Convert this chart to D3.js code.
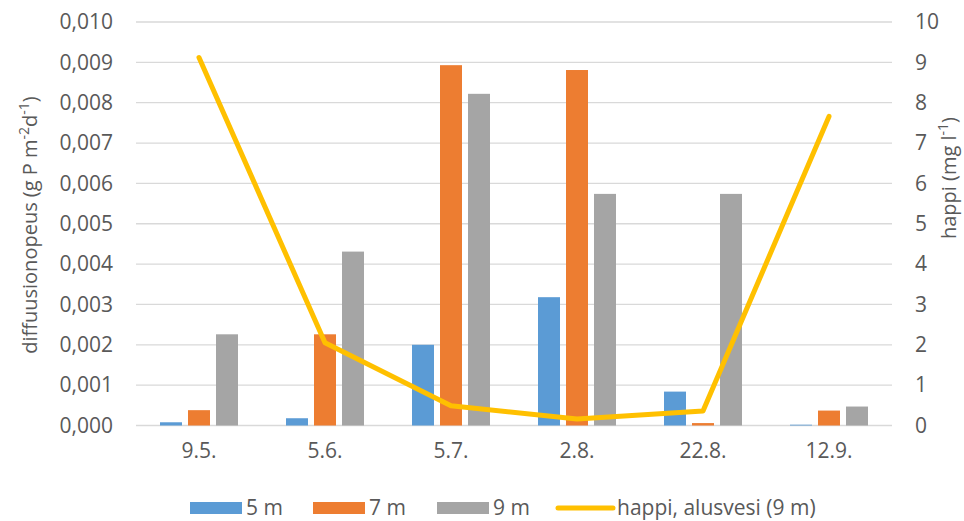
<!DOCTYPE html>
<html><head><meta charset="utf-8">
<script src="https://cdn.jsdelivr.net/npm/d3@7"></script>
<style>
html,body{margin:0;padding:0;background:#fff;}
text{font-family:"Open Sans",sans-serif;fill:#595959;}
</style></head>
<body><svg id="c" width="964" height="521"></svg>
<script>
const categories = ["9.5.", "5.6.", "5.7.", "2.8.", "22.8.", "12.9."];
const series = ["5 m", "7 m", "9 m"];
const values5m = [0.00008, 0.00018, 0.0020, 0.00318, 0.00084, 0.00002];
const values7m = [0.00038, 0.00226, 0.00893, 0.00881, 0.00006, 0.00037];
const values9m = [0.00226, 0.00431, 0.00822, 0.00574, 0.00574, 0.00047];
const oxygen = [9.12, 2.05, 0.49, 0.16, 0.36, 7.66];
const lineName = "happi, alusvesi (9 m)";
const leftTicks = [0,0.001,0.002,0.003,0.004,0.005,0.006,0.007,0.008,0.009,0.010];
const rightTicks = [0,1,2,3,4,5,6,7,8,9,10];
const colors = ["#5B9BD5", "#ED7D31", "#A5A5A5"];
const lineColor = "#FFC000";

const svg = d3.select("#c");
const L = 136, R = 892, T = 22, B = 425.5;
const FS = "21px";
const x = d3.scaleBand().domain(categories).range([L, R]).padding(0);
const yL = d3.scaleLinear().domain([0, 0.010]).range([B, T]);
const yR = d3.scaleLinear().domain([0, 10]).range([B, T]);
const groupW = 78;
const x1 = d3.scaleBand().domain(series).range([0, groupW]).paddingInner(6/28).paddingOuter(0);
const fmt = d3.formatLocale({decimal: ",", thousands: " ", grouping: [3], currency: ["", "€"]}).format(".3f");

// gridlines
svg.append("g").selectAll("line").data(leftTicks).join("line")
  .attr("x1", L).attr("x2", R)
  .attr("y1", d => yL(d)).attr("y2", d => yL(d))
  .attr("stroke", "#D9D9D9").attr("stroke-width", 1.3);

// left axis labels
const gl = svg.append("g").attr("transform", `translate(${L},0)`)
  .call(d3.axisLeft(yL).tickValues(leftTicks).tickFormat(fmt).tickSize(0).tickPadding(23));
gl.select(".domain").remove();
gl.selectAll("text").style("font-size", FS).attr("fill", "#595959").style("font-family", '"Open Sans",sans-serif');

// right axis labels
const gr = svg.append("g").attr("transform", `translate(${R},0)`)
  .call(d3.axisRight(yR).tickValues(rightTicks).tickFormat(d3.format("d")).tickSize(0).tickPadding(23));
gr.select(".domain").remove();
gr.selectAll("text").style("font-size", FS).attr("fill", "#595959").style("font-family", '"Open Sans",sans-serif');

// x axis labels
const gx = svg.append("g").attr("transform", `translate(0,${B})`)
  .call(d3.axisBottom(x).tickSize(0).tickPadding(18));
gx.select(".domain").remove();
gx.selectAll("text").style("font-size", FS).attr("fill", "#595959").style("font-family", '"Open Sans",sans-serif');

// bars
const allVals = [values5m, values7m, values9m];
series.forEach((s, si) => {
  svg.append("g").selectAll("rect").data(categories).join("rect")
    .attr("x", c => x(c) + x.bandwidth()/2 - groupW/2 + x1(s))
    .attr("width", x1.bandwidth())
    .attr("y", (c, i) => yL(allVals[si][i]))
    .attr("height", (c, i) => B - yL(allVals[si][i]))
    .attr("fill", colors[si]);
});

// line
const line = d3.line().x((d, i) => x(categories[i]) + x.bandwidth()/2).y(d => yR(d));
svg.append("path").datum(oxygen).attr("d", line)
  .attr("fill", "none").attr("stroke", lineColor).attr("stroke-width", 5)
  .attr("stroke-linejoin", "round").attr("stroke-linecap", "round");

// axis titles
svg.append("text").attr("transform", "translate(37,225) rotate(-90)")
  .attr("text-anchor", "middle").style("font-size", "20px")
  .html('diffuusionopeus (g P m<tspan dy="-8" font-size="14">-2</tspan><tspan dy="8">d</tspan><tspan dy="-8" font-size="14">-1</tspan><tspan dy="8">)</tspan>');
svg.append("text").attr("transform", "translate(956,178) rotate(-90)")
  .attr("text-anchor", "middle").style("font-size", "20px")
  .html('happi (mg l<tspan dy="-8" font-size="14">-1</tspan><tspan dy="8">)</tspan>');

// legend
const ly = 508;
const leg = [
  {type: "rect", color: colors[0], x: 190, w: 52, label: series[0]},
  {type: "rect", color: colors[1], x: 313, w: 52, label: series[1]},
  {type: "rect", color: colors[2], x: 437, w: 52, label: series[2]},
  {type: "line", color: lineColor, x: 558, w: 55, label: lineName}
];
const lg = svg.append("g");
leg.forEach(d => {
  if (d.type === "rect") {
    lg.append("rect").attr("x", d.x).attr("y", ly - 6).attr("width", d.w).attr("height", 12).attr("fill", d.color);
  } else {
    lg.append("line").attr("x1", d.x).attr("x2", d.x + d.w).attr("y1", ly).attr("y2", ly)
      .attr("stroke", d.color).attr("stroke-width", 5).attr("stroke-linecap", "round");
  }
  lg.append("text").attr("x", d.x + d.w + 4).attr("y", ly).attr("dy", "0.35em")
    .style("font-size", FS).text(d.label);
});
</script></body></html>
